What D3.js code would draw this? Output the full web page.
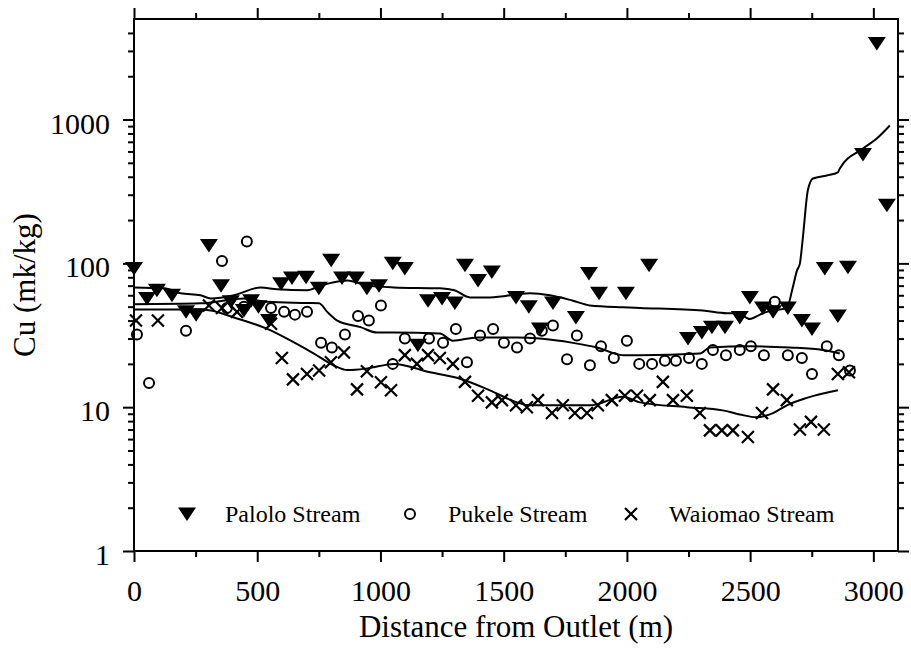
<!DOCTYPE html>
<html>
<head>
<meta charset="utf-8">
<script src="https://cdn.jsdelivr.net/npm/d3@7"></script>
<style>
  body { margin: 0; background: #fff; }
  svg { display: block; }
  text { font-family: "Liberation Serif", "DejaVu Serif", serif; fill: #000; }
  .axis path { display: none; }
  .axis line { stroke: #000; stroke-width: 2; }
  .axis text { font-size: 30px; }
</style>
</head>
<body>
<svg id="chart" width="911" height="650"></svg>
<script>
// Palolo Stream samples (distance m, Cu mg/kg)
var paloloDist = [0, 53, 93, 154, 211, 252, 304, 353, 393, 446, 475, 505, 548, 597, 641, 698, 750, 800, 844, 900,
  945, 994, 1050, 1099, 1152, 1193, 1250, 1302, 1343, 1396, 1452, 1550, 1602, 1647, 1700, 1793, 1846, 1887, 1996, 2090,
  2248, 2304, 2345, 2398, 2458, 2499, 2552, 2593, 2653, 2710, 2751, 2803, 2856, 2897, 2958, 3014, 3055]
var paloloCu = [92, 57, 65, 60, 46, 44, 133, 70, 54, 47, 55, 50, 40, 72, 79, 80, 67, 105, 79, 79,
  67, 70, 100, 92, 27, 55, 57, 53, 97, 76, 87, 58, 50, 35, 53, 42, 85, 62, 62, 97,
  30, 33, 36, 36, 42, 58, 49, 46, 49, 40, 35, 92, 43, 94, 571, 3373, 253]

var pukeleDist = [12, 61, 211, 357, 377, 446, 458, 556, 609, 653, 702, 759, 803, 856, 909, 953, 1002, 1050, 1099, 1197,
  1254, 1306, 1351, 1404, 1457, 1501, 1554, 1607, 1655, 1700, 1757, 1797, 1850, 1895, 1947, 2000, 2050, 2102, 2154, 2199,
  2252, 2304, 2349, 2402, 2458, 2503, 2556, 2600, 2653, 2710, 2751, 2811, 2860, 2905]
var pukeleCu = [32, 14.7, 34, 104, 49, 50, 142, 49, 46, 44, 46, 28, 26, 32, 43, 40, 51, 20, 30, 30,
  28, 35, 20.5, 31.5, 35, 28, 26, 30, 34, 37, 21.5, 31.5, 19.6, 26.5, 22, 29, 20, 20, 21, 21,
  22, 20, 25, 23, 25, 26.5, 23, 54, 23, 22, 17, 26.5, 23, 18]

var waiomaoDist = [8, 97, 304, 357, 418, 556, 600, 645, 702, 751, 799, 852, 905, 945, 1002, 1043, 1099, 1148, 1193, 1241,
  1294, 1343, 1396, 1452, 1493, 1550, 1594, 1639, 1696, 1740, 1789, 1838, 1882, 1939, 1992, 2041, 2093, 2146, 2187, 2243,
  2296, 2337, 2385, 2430, 2491, 2548, 2593, 2649, 2702, 2747, 2799, 2856, 2901]
var waiomaoCu = [40, 40, 51, 49, 46, 38, 22, 15.6, 17, 18, 20.5, 24, 13.3, 17.8, 14.9, 13.1, 23, 20, 23, 22,
  20, 15, 12, 10.8, 11.2, 10.3, 10, 11.2, 9.1, 10.3, 9.1, 9.1, 10.3, 11.2, 12, 12, 11.2, 15, 11.2, 12,
  9.1, 6.9, 6.9, 6.9, 6.2, 9.1, 13.3, 11.2, 7, 7.9, 7, 17, 17.5]

// smoothed trend lines
var paloloFitDist = [0, 122, 189, 270, 311, 406, 514, 581, 703, 757, 811, 866, 947, 1055, 1241, 1300, 1363, 1444, 1607, 1688,
  1781, 1850, 1984, 2053, 2308, 2406, 2450, 2499, 2540, 2568, 2649, 2673, 2690, 2702, 2714, 2734, 2755, 2811, 2856, 2864,
  2958, 3014, 3067]
var paloloFitCu = [68, 67, 62, 60, 57, 60, 68, 66, 65, 70, 74, 76, 70, 68, 67, 65, 58, 58, 62, 60,
  55, 51, 49.5, 49, 47, 45, 45, 41, 44, 46, 49, 68, 89, 100, 151, 321, 389, 408, 429, 457,
  629, 738, 908]

var pukeleFitDist = [0, 270, 446, 541, 703, 751, 784, 825, 919, 987, 1055, 1241, 1294, 1392, 1554, 1647, 1781, 1878, 1984, 2053,
  2296, 2337, 2499, 2661, 2795, 2864]
var pukeleFitCu = [52, 52.7, 57, 54, 53, 52.7, 46, 40, 36, 33, 33, 32.5, 29, 30.5, 30.5, 30, 28, 26, 23, 23,
  23.6, 26, 26.5, 26, 25, 23.6]

var waiomaoFitDist = [0, 270, 311, 406, 541, 636, 730, 811, 866, 947, 1055, 1201, 1310, 1444, 1554, 1607, 1850, 1984, 2053, 2243,
  2389, 2458, 2527, 2593, 2649, 2730, 2856]
var waiomaoFitCu = [47.7, 47.7, 47, 42, 35, 29, 23.6, 19.5, 18.1, 18.6, 20, 17.5, 16, 13.1, 10.8, 10.3, 10.3, 11.8, 10.8, 10,
  9.5, 8.9, 8.5, 9.1, 10.3, 11.6, 13.1]

var xMajor = [0, 500, 1000, 1500, 2000, 2500, 3000]
var xMinor = [250, 750, 1250, 1750, 2250, 2750]
var yMajor = [1, 10, 100, 1000]
var yMinor = [2, 3, 4, 5, 6, 7, 8, 9, 20, 30, 40, 50, 60, 70, 80, 90,
  200, 300, 400, 500, 600, 700, 800, 900, 2000, 3000, 4000]

var legendNames = ['Palolo Stream', 'Pukele Stream', 'Waiomao Stream']

function zip (xs, ys) {
  return xs.map(function (d, i) { return { x: d, y: ys[i] } })
}

function drawChart () {
  var svg = d3.select('#chart')
  var margin = { top: 20, left: 134, bottom: 99, right: 13 }
  var width = +svg.attr('width')
  var height = +svg.attr('height')

  var x = d3.scaleLinear()
    .domain([0, 3100])
    .range([margin.left, width - margin.right])

  var y = d3.scaleLog()
    .domain([1, 5000])
    .range([height - margin.bottom, margin.top - 1])

  var triPath = 'M-9,-6.5L9,-6.5L0,7Z'
  var crossPath = 'M-6,-6L6,6M6,-6L-6,6'

  // axes
  svg.append('g').attr('class', 'axis')
    .attr('transform', 'translate(0,' + y(1) + ')')
    .call(d3.axisBottom(x).tickValues(xMajor).tickSize(11).tickPadding(18).tickFormat(d3.format('d')))
  svg.append('g').attr('class', 'axis')
    .attr('transform', 'translate(0,' + y(1) + ')')
    .call(d3.axisBottom(x).tickValues(xMinor).tickSize(6).tickFormat(''))
  svg.append('g').attr('class', 'axis')
    .attr('transform', 'translate(0,' + y(5000) + ')')
    .call(d3.axisTop(x).tickValues(xMajor).tickSize(11).tickFormat(''))
  svg.append('g').attr('class', 'axis')
    .attr('transform', 'translate(0,' + y(5000) + ')')
    .call(d3.axisTop(x).tickValues(xMinor).tickSize(6).tickFormat(''))

  var gY = svg.append('g').attr('class', 'axis')
    .attr('transform', 'translate(' + x(0) + ',0)')
    .call(d3.axisLeft(y).tickValues(yMajor).tickSize(11).tickPadding(13).tickFormat(d3.format('d')))
  gY.selectAll('text').attr('dy', '0.45em')
  svg.append('g').attr('class', 'axis')
    .attr('transform', 'translate(' + x(0) + ',0)')
    .call(d3.axisLeft(y).tickValues(yMinor).tickSize(6).tickFormat(''))
  svg.append('g').attr('class', 'axis')
    .attr('transform', 'translate(' + x(3100) + ',0)')
    .call(d3.axisRight(y).tickValues(yMajor).tickSize(11).tickFormat(''))
  svg.append('g').attr('class', 'axis')
    .attr('transform', 'translate(' + x(3100) + ',0)')
    .call(d3.axisRight(y).tickValues(yMinor).tickSize(6).tickFormat(''))

  svg.selectAll('.axis').attr('font-family', null)

  svg.append('rect')
    .attr('x', x(0))
    .attr('y', y(5000))
    .attr('width', x(3100) - x(0))
    .attr('height', y(1) - y(5000))
    .attr('fill', 'none')
    .attr('stroke', '#000')
    .attr('stroke-width', 2)

  // trend lines
  var line = d3.line()
    .x(function (d) { return x(d.x) })
    .y(function (d) { return y(d.y) })
    .curve(d3.curveMonotoneX)

  var fits = [zip(paloloFitDist, paloloFitCu), zip(pukeleFitDist, pukeleFitCu), zip(waiomaoFitDist, waiomaoFitCu)]
  svg.append('g').selectAll('path')
    .data(fits).enter().append('path')
    .attr('d', line)
    .attr('fill', 'none')
    .attr('stroke', '#000')
    .attr('stroke-width', 2)

  // points
  svg.append('g').selectAll('path')
    .data(zip(waiomaoDist, waiomaoCu)).enter().append('path')
    .attr('transform', function (d) { return 'translate(' + x(d.x) + ',' + y(d.y) + ')' })
    .attr('d', crossPath)
    .attr('stroke', '#000')
    .attr('stroke-width', 2.2)

  svg.append('g').selectAll('circle')
    .data(zip(pukeleDist, pukeleCu)).enter().append('circle')
    .attr('cx', function (d) { return x(d.x) })
    .attr('cy', function (d) { return y(d.y) })
    .attr('r', 5)
    .attr('fill', 'none')
    .attr('stroke', '#000')
    .attr('stroke-width', 2)

  svg.append('g').selectAll('path')
    .data(zip(paloloDist, paloloCu)).enter().append('path')
    .attr('transform', function (d) { return 'translate(' + x(d.x) + ',' + y(d.y) + ')' })
    .attr('d', triPath)
    .attr('fill', '#000')

  // legend
  var legendX = [187, 410, 631]
  var gLegend = svg.append('g').attr('transform', 'translate(0,514)')
  gLegend.append('path').attr('transform', 'translate(' + legendX[0] + ',0)').attr('d', triPath).attr('fill', '#000')
  gLegend.append('circle').attr('cx', legendX[1]).attr('cy', 0).attr('r', 5)
    .attr('fill', 'none').attr('stroke', '#000').attr('stroke-width', 2)
  gLegend.append('path').attr('transform', 'translate(' + legendX[2] + ',0)').attr('d', crossPath)
    .attr('stroke', '#000').attr('stroke-width', 2.2)
  gLegend.selectAll('text')
    .data(legendNames).enter().append('text')
    .attr('x', function (d, i) { return legendX[i] + 38 })
    .attr('y', 8)
    .attr('font-size', 24)
    .text(function (d) { return d })

  // titles
  svg.append('text')
    .attr('x', (x(0) + x(3100)) / 2)
    .attr('y', 637)
    .attr('text-anchor', 'middle')
    .attr('font-size', 31)
    .text('Distance from Outlet (m)')

  svg.append('text')
    .attr('transform', 'translate(35,' + (y(1) + y(5000)) / 2 + ') rotate(-90)')
    .attr('text-anchor', 'middle')
    .attr('font-size', 31)
    .text('Cu (mk/kg)')
}

drawChart()
</script>
</body>
</html>
